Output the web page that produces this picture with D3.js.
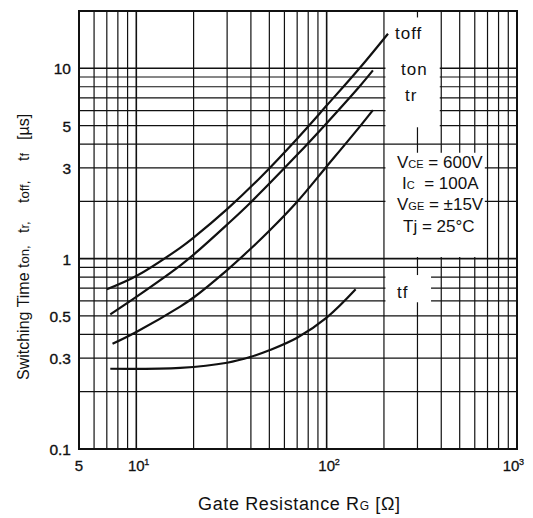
<!DOCTYPE html>
<html>
<head>
<meta charset="utf-8">
<script src="https://cdn.jsdelivr.net/npm/d3@7"></script>
<style>
  body { margin: 0; background: #fff; }
  svg { display: block; }
  text { font-family: "Liberation Sans", Arial, sans-serif; fill: #111; }
</style>
</head>
<body>
<svg id="chart" width="533" height="518"></svg>
<script>
// switching time vs gate resistance
const rgToff = [7, 10, 17, 20, 30, 45, 70, 100, 150, 210];
const tOff   = [0.69, 0.81, 1.14, 1.29, 1.82, 2.68, 4.27, 6.37, 10.1, 15.2];
const rgTon  = [7.3, 10, 17, 20, 30, 40, 70, 100, 150, 175];
const tOn    = [0.51, 0.63, 0.92, 1.05, 1.51, 1.98, 3.51, 5.15, 8.1, 9.75];
const rgTr   = [7.5, 10, 17, 20, 30, 40, 50, 70, 100, 150, 175];
const tR     = [0.357, 0.412, 0.56, 0.625, 0.871, 1.13, 1.40, 1.99, 3.05, 4.97, 6.03];
const rgTf   = [7.3, 17, 30, 40, 50, 70, 100, 142];
const tF     = [0.264, 0.267, 0.284, 0.305, 0.33, 0.384, 0.49, 0.69];

const gridX = [6, 7, 8, 9, 10, 20, 30, 40, 50, 60, 70, 80, 90, 100, 200, 300, 400, 500, 600, 700, 800, 900];
const gridY = [0.2, 0.3, 0.4, 0.5, 0.6, 0.7, 0.8, 0.9, 1, 2, 3, 4, 5, 6, 7, 8, 9, 10];
const yTicks = [10, 5, 3, 1, 0.5, 0.3, 0.1];
const yTickLabels = ["10", "5", "3", "1", "0.5", "0.3", "0.1"];
const xTicks = [5, 10, 100, 1000];
const xTickBase = ["5", "10", "10", "10"];
const xTickExp = ["", "1", "2", "3"];

const padL = 79, padR = 517, padT = 11, padB = 449;

const svg = d3.select("#chart");

let x = d3.scaleLog().domain([5, 1000]).range([padL, padR]);
let y = d3.scaleLog().domain([0.1, 20]).range([padB, padT]);

// grid
const grid = svg.append("g");
grid.selectAll(".gx").data(gridX).enter().append("line")
  .attr("x1", d => x(d)).attr("x2", d => x(d))
  .attr("y1", padT).attr("y2", padB)
  .attr("stroke", "#111")
  .attr("stroke-width", d => [10, 100].includes(d) ? 1.6 : 1.2);

grid.selectAll(".gy").data(gridY).enter().append("line")
  .attr("x1", padL).attr("x2", padR)
  .attr("y1", d => y(d)).attr("y2", d => y(d))
  .attr("stroke", "#111")
  .attr("stroke-width", d => [1, 10].includes(d) ? 1.6 : 1.2);

// blank patches behind the labels
const blanks = [
  [200, 400, 18.5, 4.9],
  [200, 690, 3.6, 1.02],
  [200, 360, 0.82, 0.59]
];
svg.selectAll(".blank").data(blanks).enter().append("rect")
  .attr("x", d => x(d[0]) + 1.5)
  .attr("y", d => y(d[2]))
  .attr("width", d => x(d[1]) - x(d[0]) - 3)
  .attr("height", d => y(d[3]) - y(d[2]))
  .attr("fill", "#fff");

// frame
svg.append("rect")
  .attr("x", padL).attr("y", padT)
  .attr("width", padR - padL).attr("height", padB - padT)
  .attr("fill", "none").attr("stroke", "#111").attr("stroke-width", 2);

// curves
const line = d3.line()
  .x(d => x(d[0]))
  .y(d => y(d[1]))
  .curve(d3.curveCatmullRom.alpha(0.5));

const series = [
  d3.zip(rgToff, tOff),
  d3.zip(rgTon, tOn),
  d3.zip(rgTr, tR),
  d3.zip(rgTf, tF)
];

svg.selectAll(".curve").data(series).enter().append("path")
  .attr("d", line)
  .attr("fill", "none")
  .attr("stroke", "#111")
  .attr("stroke-width", 2.2);

// y tick labels
svg.selectAll(".ylab").data(yTicks).enter().append("text")
  .attr("x", 71)
  .attr("y", d => y(d) + 6)
  .attr("text-anchor", "end")
  .attr("font-size", 15.5)
  .attr("stroke", "#111").attr("stroke-width", 0.35)
  .text((d, i) => yTickLabels[i]);

// x tick labels
const xl = svg.selectAll(".xlab").data(xTicks).enter().append("g")
  .attr("transform", (d, i) => `translate(${x(d) - (i == 3 ? 6 : 0)},471)`);
xl.append("text")
  .attr("text-anchor", "middle")
  .attr("font-size", 15)
  .attr("stroke", "#111").attr("stroke-width", 0.3)
  .text((d, i) => xTickBase[i]);
xl.append("text")
  .attr("x", 8).attr("y", -6)
  .attr("font-size", 9)
  .attr("stroke", "#111").attr("stroke-width", 0.3)
  .text((d, i) => xTickExp[i]);

// x axis title
const xt = svg.append("text")
  .attr("x", 198).attr("y", 510)
  .attr("font-size", 18)
  .attr("textLength", 202).attr("lengthAdjust", "spacing");
xt.append("tspan").text("Gate Resistance R");
xt.append("tspan").attr("font-size", 12).text("G");
xt.append("tspan").text(" [Ω]");

// y axis title, pieces placed along the rotated baseline
const yt = svg.append("g").attr("transform", "translate(29,0) rotate(-90)");
const yParts = [
  [380, "Switching Time", ""],
  [268, "t", "on,"],
  [233, "t", "r,"],
  [203, "t", "off,"],
  [161, "t", "f"],
  [140, "[µs]", ""]
];
yParts.forEach(p => {
  const t = yt.append("text").attr("x", -p[0]).attr("y", 0)
    .attr("font-size", 16);
  t.append("tspan").text(p[1]);
  if (p[2]) t.append("tspan").attr("font-size", 13).text(p[2]);
});

// curve labels
const curveLabels = [["toff", 395, 39], ["ton", 401, 75], ["tr", 405, 101], ["tf", 397, 298]];
svg.selectAll(".clab").data(curveLabels).enter().append("text")
  .attr("x", d => d[1]).attr("y", d => d[2])
  .attr("font-size", 17)
  .attr("letter-spacing", 1)
  .text(d => d[0]);

// test conditions
const cond = [
  [397, 168, "V", "CE", " = 600V"],
  [402, 189, "I", "C", "  = 100A"],
  [397, 210, "V", "GE", " = ±15V"],
  [403, 232, "Tj", "", " = 25°C"]
];
cond.forEach(c => {
  const t = svg.append("text").attr("x", c[0]).attr("y", c[1])
    .attr("font-size", 17).attr("xml:space", "preserve");
  t.append("tspan").text(c[2]);
  if (c[3]) t.append("tspan").attr("font-size", 11).text(c[3]);
  t.append("tspan").text(c[4]);
});
</script>
</body>
</html>
